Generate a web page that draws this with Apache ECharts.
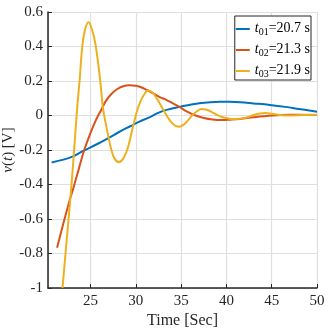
<!DOCTYPE html>
<html>
<head>
<meta charset="utf-8">
<script src="https://cdn.jsdelivr.net/npm/echarts@6/dist/echarts.min.js"></script>
<style>
  html, body { margin: 0; padding: 0; background: #fff; }
  #chart { width: 332px; height: 332px; }
</style>
</head>
<body>
<div id="chart"></div>
<script>
// values, [time, volts]
const seriesNames = ['t01', 't02', 't03']
const legendLabels = ['{i|t}{s|01}{n|=20.7 s}', '{i|t}{s|02}{n|=21.3 s}', '{i|t}{s|03}{n|=21.9 s}']
const yTicks = [-1, -0.8, -0.6, -0.4, -0.2, 0, 0.2, 0.4, 0.6]

const blue = [
  [20.7, -0.272], [22, -0.256], [23, -0.238], [24.2, -0.205], [25, -0.185], [26, -0.158],
  [27, -0.13], [28, -0.1], [29, -0.072], [29.7, -0.054], [30.4, -0.035], [31.3, -0.015],
  [32.6, 0.018], [33.5, 0.034], [34.8, 0.05], [36, 0.062], [37, 0.071], [38.2, 0.077],
  [39.3, 0.079], [40.4, 0.079], [41.5, 0.077], [43, 0.07], [44.8, 0.061], [46.5, 0.05],
  [48, 0.038], [50, 0.022]
]
const red = [
  [21.3, -0.766], [22, -0.625], [22.7, -0.49], [23.05, -0.43], [23.7, -0.31], [24.3, -0.2],
  [25, -0.1], [25.6, -0.025], [26.2, 0.035], [26.7, 0.085], [27.3, 0.125], [28, 0.155],
  [28.6, 0.17], [29.3, 0.175], [30, 0.172], [30.5, 0.165], [31.2, 0.148], [32, 0.125],
  [32.7, 0.105], [33.3, 0.092], [34.1, 0.07], [34.8, 0.05], [35.6, 0.024], [36.6, 0.0],
  [37.5, -0.014], [38.5, -0.023], [39.4, -0.026], [40.4, -0.024], [41.5, -0.02],
  [43, -0.01], [45.1, 0.0], [47, 0.004], [50, 0.003]
]
const yellow = [
  [21.9, -1.0], [22.3, -0.76], [22.85, -0.43], [23.2, -0.19], [23.5, 0.03], [23.8, 0.21],
  [24.05, 0.38], [24.35, 0.49], [24.78, 0.54], [25.15, 0.5], [25.55, 0.41], [26.05, 0.21],
  [26.35, 0.05], [26.65, -0.04], [27.0, -0.13], [27.3, -0.2], [27.65, -0.25], [28.1, -0.27],
  [28.6, -0.25], [29.1, -0.19], [29.7, -0.06], [30.1, 0.02], [30.45, 0.075], [30.9, 0.12],
  [31.35, 0.145], [31.8, 0.135], [32.3, 0.1], [32.85, 0.05], [33.4, 0.0], [33.9, -0.038],
  [34.4, -0.06], [34.8, -0.065], [35.3, -0.052], [35.8, -0.025], [36.3, 0.005], [36.8, 0.027],
  [37.25, 0.037], [37.8, 0.033], [38.4, 0.02], [39.0, 0.002], [39.5, -0.009], [40.0, -0.015],
  [40.7, -0.02], [41.5, -0.019], [42.3, -0.01], [43.0, 0.003], [43.7, 0.012], [44.3, 0.014],
  [45.0, 0.01], [45.9, 0.003], [47, 0.0], [48.5, 0.003], [50, 0.004]
]

const chart = echarts.init(document.getElementById('chart'))
const font = 'Liberation Serif'
const lineColors = ['#0072BD', '#D95319', '#EDB120']

const option = {
  animation: false,
  textStyle: { fontFamily: font },
  grid: { left: 48, right: 15, top: 12, bottom: 44, containLabel: false, outerBoundsMode: 'none' },
  legend: {
    right: 21,
    top: 16,
    orient: 'vertical',
    icon: 'rect',
    backgroundColor: '#fff',
    borderColor: '#262626',
    borderWidth: 1,
    borderRadius: 0,
    padding: [1, 1, 1, 1],
    itemWidth: 14,
    itemHeight: 2,
    itemGap: 1,
    formatter: name => legendLabels[seriesNames.indexOf(name)],
    textStyle: {
      fontFamily: font,
      color: '#000',
      rich: {
        i: { fontFamily: font, fontStyle: 'italic', fontSize: 14, lineHeight: 16, verticalAlign: 'top', color: '#000' },
        s: { fontFamily: font, fontSize: 10, lineHeight: 10, verticalAlign: 'bottom', padding: [10, 0, 0, 0], color: '#000' },
        n: { fontFamily: font, fontSize: 14, lineHeight: 16, verticalAlign: 'top', color: '#000' }
      }
    }
  },
  xAxis: {
    type: 'value',
    min: 20.3,
    max: 50,
    name: 'Time [Sec]',
    nameLocation: 'middle',
    nameGap: 25,
    nameMoveOverlap: false,
    nameTextStyle: { fontFamily: font, fontSize: 16, color: '#262626', verticalAlign: 'top' },
    axisLine: { onZero: false, lineStyle: { color: '#262626', width: 1.5 } },
    axisTick: { inside: true, length: 4, lineStyle: { color: '#262626' } },
    axisLabel: { showMinLabel: false, fontFamily: font, fontSize: 15, color: '#262626', margin: 6 },
    splitLine: { show: true, lineStyle: { color: '#dfdfdf', width: 1.2 } }
  },
  yAxis: {
    type: 'value',
    min: yTicks[0],
    max: yTicks[yTicks.length - 1],
    interval: 0.2,
    name: '{i|v}({i|t}) [V]',
    nameLocation: 'middle',
    nameGap: 32,
    nameMoveOverlap: false,
    nameTextStyle: {
      fontFamily: font, fontSize: 15, color: '#262626',
      rich: { i: { fontFamily: font, fontStyle: 'italic', fontSize: 15, color: '#262626' } }
    },
    axisLine: { show: true, onZero: false, lineStyle: { color: '#262626', width: 1.5 } },
    axisTick: { show: true, inside: true, length: 4, lineStyle: { color: '#262626' } },
    axisLabel: {
      fontFamily: font, fontSize: 15, color: '#262626', margin: 5,
      formatter: v => String(Math.round(v * 10) / 10)
    },
    splitLine: { show: true, lineStyle: { color: '#dfdfdf', width: 1.2 } }
  },
  series: [blue, red, yellow].map((d, k) => ({
    name: seriesNames[k],
    type: 'line',
    data: d,
    smooth: 0.4,
    symbol: 'none',
    lineStyle: { width: 2, color: lineColors[k] },
    itemStyle: { color: lineColors[k] }
  }))
}
chart.setOption(option)
</script>
</body>
</html>
